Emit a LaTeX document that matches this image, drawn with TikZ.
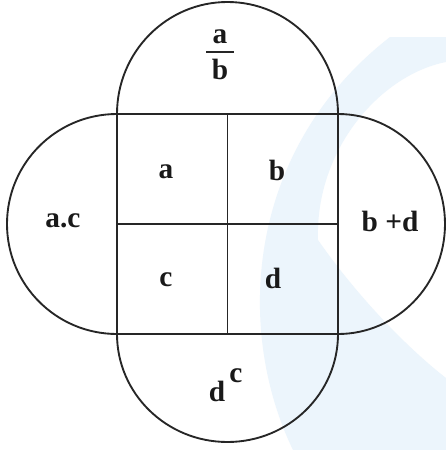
\documentclass[tikz,border=0pt]{standalone}
\usepackage{fontspec}
\setmainfont{Liberation Serif}
\definecolor{wmark}{RGB}{236,245,252}
\begin{document}
\begin{tikzpicture}[x=0.75pt,y=-0.75pt,
  outline/.style={draw=black!85, line width=1.4pt},
  lbl/.style={font=\fontsize{22}{24}\selectfont\bfseries, inner sep=0pt, text=black!90}]
\fill[white] (0,0) rectangle (446,450);
\useasboundingbox (0,0) rectangle (446,450);
% faint watermark
\fill[wmark] (293,450) .. controls (235,330) and (245,150) .. (390,37)
  -- (446,37) -- (446,62) .. controls (380,75) and (315,150) .. (318,240)
  .. controls (360,300) and (410,350) .. (446,378) -- (446,450) -- cycle;
% vertical stadium
\draw[outline] (117,114) arc[start angle=180, end angle=360, x radius=110.5, y radius=112];
\draw[outline] (117,334) arc[start angle=180, end angle=0, x radius=110.5, y radius=108];
% horizontal stadium
\draw[outline] (117,114) arc[start angle=270, end angle=90, x radius=110, y radius=110];
\draw[outline] (338,114) arc[start angle=-90, end angle=90, x radius=107, y radius=110];
% central square
\draw[outline] (117,114) rectangle (338,334);
\draw[outline] (227.5,114) -- (227.5,334);
\draw[outline] (117,224) -- (338,224);
% labels
\node[lbl] (fa) at (220,37) {a};
\node[lbl] (fb) at (220,69) {b};
\coordinate (barL) at (206,52);
\coordinate (barR) at (234,52);
\draw[line width=1.6pt, black!85] (barL) -- (barR);
\node[lbl] (ca) at (166,172) {a};
\node[lbl] (cb) at (277,170) {b};
\node[lbl] (cc) at (166,280) {c};
\node[lbl] (cd) at (273,278) {d};
\node[lbl] (ac) at (63,221) {a.c};
\node[lbl] (bd) at (390,221) {b +d};
\node[lbl] (dd) at (217,391) {d};
\node[lbl] (dc) at (236,376) {c};
\end{tikzpicture}
\end{document}
